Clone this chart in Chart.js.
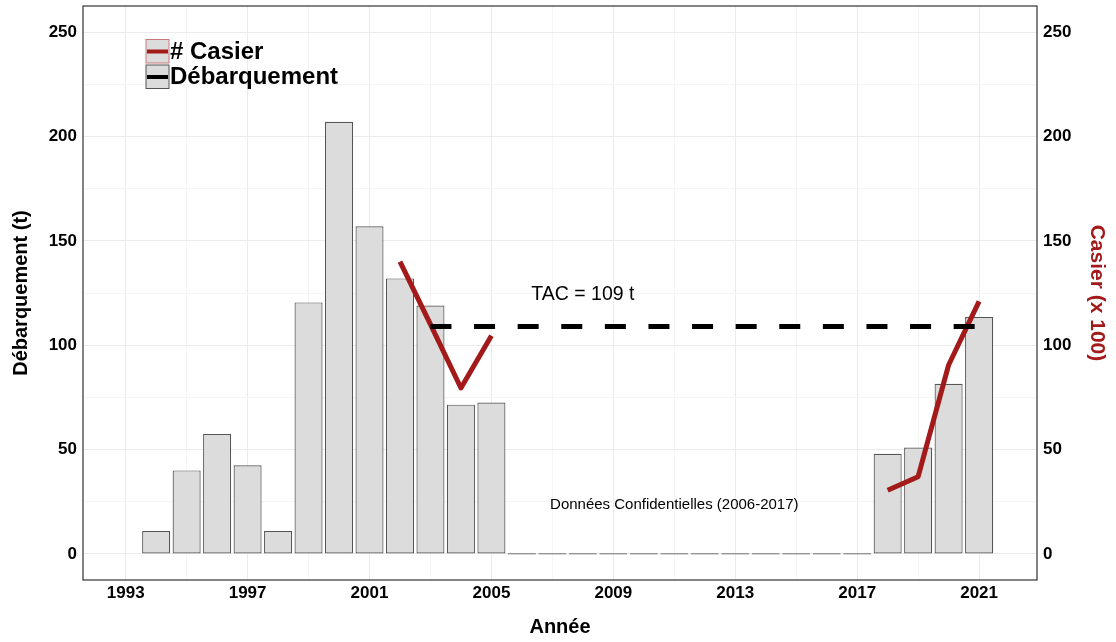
<!DOCTYPE html>
<html>
<head>
<meta charset="utf-8">
<script src="https://cdn.jsdelivr.net/npm/chart.js@4.4.1/dist/chart.umd.min.js"></script>
<style>
  html, body { margin: 0; padding: 0; background: #fff; }
</style>
</head>
<body>
<canvas id="chart" width="1116" height="642"></canvas>
<script>
// data
const years = [1994, 1995, 1996, 1997, 1998, 1999, 2000, 2001, 2002, 2003, 2004, 2005,
  2006, 2007, 2008, 2009, 2010, 2011, 2012, 2013, 2014, 2015, 2016, 2017,
  2018, 2019, 2020, 2021];
const landings = [11, 40, 57.5, 42.5, 11, 120.5, 207, 157, 132, 119, 71.5, 72.5,
  0, 0, 0, 0, 0, 0, 0, 0, 0, 0, 0, 0,
  48, 51, 81.5, 113.5];
const traps = [null, null, null, null, null, null, null, null, 140, 110, 79.5, 104.5,
  null, null, null, null, null, null, null, null, null, null, null, null,
  30.5, 37, 90.5, 121];
const tacYears = [2003, 2021];
const tacValue = 109;
const xTicks = [1993, 1995, 1997, 1999, 2001, 2003, 2005, 2007, 2009, 2011, 2013, 2015, 2017, 2019, 2021];
const yTicks = [0, 25, 50, 75, 100, 125, 150, 175, 200, 225, 250];

const FONT = '"Liberation Sans", Arial, sans-serif';
const RED = '#a31a1a';
const GRID_MAJOR = '#ebebeb';
const GRID_MINOR = '#f5f5f5';

const frame = {
  id: 'frame',
  afterDraw(chart) {
    const {ctx, chartArea: a} = chart;
    ctx.save();
    ctx.strokeStyle = '#333';
    ctx.lineWidth = 1.2;
    ctx.strokeRect(a.left, a.top, a.right - a.left, a.bottom - a.top);
    ctx.restore();
  }
};

const notes = {
  id: 'notes',
  afterDatasetsDraw(chart) {
    const {ctx, scales: {x, y}} = chart;
    ctx.save();
    ctx.fillStyle = '#000';
    ctx.textAlign = 'center';
    ctx.textBaseline = 'middle';
    ctx.font = '19.5px ' + FONT;
    ctx.fillText('TAC = ' + tacValue + ' t', x.getPixelForValue(2008), y.getPixelForValue(124));
    ctx.font = '15px ' + FONT;
    ctx.fillText('Données Confidentielles (2006-2017)', x.getPixelForValue(2011), y.getPixelForValue(23.5));
    ctx.restore();
  }
};

const keyBox = {
  id: 'keyBox',
  afterDraw(chart) {
    const ctx = chart.ctx;
    const items = [
      {text: '# Casier', line: RED, edge: '#c87a7a', top: 39.5},
      {text: 'Débarquement', line: '#000', edge: '#555', top: 65}
    ];
    ctx.save();
    items.forEach(it => {
      ctx.fillStyle = '#dcdcdc';
      ctx.fillRect(146, it.top, 23, 23.5);
      ctx.strokeStyle = it.edge;
      ctx.lineWidth = 1;
      ctx.strokeRect(146, it.top, 23, 23.5);
      ctx.strokeStyle = it.line;
      ctx.lineWidth = 4;
      ctx.beginPath();
      ctx.moveTo(147, it.top + 12);
      ctx.lineTo(168, it.top + 12);
      ctx.stroke();
      ctx.fillStyle = '#000';
      ctx.font = 'bold 24px ' + FONT;
      ctx.textBaseline = 'middle';
      ctx.fillText(it.text, 170, it.top + 12.5);
    });
    ctx.restore();
  }
};

const tickFont = {family: FONT, size: 17, weight: 'bold'};

function noPad(s) {
  s.paddingTop = 0;
  s.paddingBottom = 0;
  s.paddingLeft = 0;
  s.paddingRight = 0;
}

new Chart(document.getElementById('chart'), {
  data: {
    datasets: [
      {
        type: 'line',
        label: 'TAC',
        data: tacYears.map(v => ({x: v, y: tacValue})),
        borderColor: '#000',
        borderWidth: 5,
        borderDash: [21, 22.6],
        borderCapStyle: 'butt',
        pointRadius: 0,
        yAxisID: 'y',
        order: 1
      },
      {
        type: 'line',
        label: '# Casier',
        data: years.map((v, i) => ({x: v, y: traps[i]})),
        borderColor: RED,
        borderWidth: 5,
        borderCapStyle: 'butt',
        borderJoinStyle: 'round',
        spanGaps: false,
        pointRadius: 0,
        yAxisID: 'y1',
        order: 2
      },
      {
        type: 'bar',
        label: 'Débarquement',
        data: years.map((v, i) => ({x: v, y: landings[i]})),
        backgroundColor: '#dcdcdc',
        borderColor: '#555',
        borderWidth: 1.2,
        borderSkipped: false,
        minBarLength: 1.4,
        barPercentage: 0.92,
        categoryPercentage: 1,
        yAxisID: 'y',
        order: 3
      }
    ]
  },
  options: {
    responsive: false,
    animation: false,
    layout: {padding: {top: 6, left: 0, right: 0, bottom: 0}},
    plugins: {legend: {display: false}, tooltip: {enabled: false}},
    scales: {
      x: {
        type: 'linear',
        min: 1991.6,
        max: 2022.9,
        offset: false,
        afterBuildTicks: s => { s.ticks = xTicks.map(v => ({value: v})); },
        afterFit: s => { s.height = 62; noPad(s); },
        border: {display: false},
        grid: {
          offset: false,
          drawTicks: false,
          color: c => (c.tick && c.tick.value % 4 === 1) ? GRID_MAJOR : GRID_MINOR,
          lineWidth: 1
        },
        ticks: {
          autoSkip: false,
          maxRotation: 0,
          padding: 3,
          color: '#000',
          font: tickFont,
          callback: v => (v % 4 === 1) ? String(v) : ''
        },
        title: {
          display: true,
          text: 'Année',
          color: '#000',
          font: {family: FONT, size: 20, weight: 'bold'},
          padding: {top: 0, bottom: 3}
        }
      },
      y: {
        position: 'left',
        min: -12.5,
        max: 262.5,
        afterBuildTicks: s => { s.ticks = yTicks.map(v => ({value: v})); },
        afterFit: s => { s.width = 83; noPad(s); },
        border: {display: false},
        grid: {
          drawTicks: false,
          color: c => (c.tick && c.tick.value % 50 === 0) ? GRID_MAJOR : GRID_MINOR,
          lineWidth: 1
        },
        ticks: {
          padding: 6,
          color: '#000',
          font: tickFont,
          callback: v => (v % 50 === 0) ? String(v) : ''
        },
        title: {
          display: true,
          text: 'Débarquement (t)',
          color: '#000',
          font: {family: FONT, size: 20, weight: 'bold'},
          padding: {top: 9, bottom: 0}
        }
      },
      y1: {
        position: 'right',
        min: -12.5,
        max: 262.5,
        afterBuildTicks: s => { s.ticks = yTicks.map(v => ({value: v})); },
        afterFit: s => { s.width = 79; noPad(s); },
        border: {display: false},
        grid: {display: false, drawTicks: false},
        ticks: {
          padding: 6,
          color: '#000',
          font: tickFont,
          callback: v => (v % 50 === 0) ? String(v) : ''
        },
        title: {
          display: true,
          text: 'Casier (x 100)',
          color: RED,
          font: {family: FONT, size: 21, weight: 'bold'},
          padding: {top: 7, bottom: 0}
        }
      }
    }
  },
  plugins: [frame, notes, keyBox]
});
</script>
</body>
</html>
